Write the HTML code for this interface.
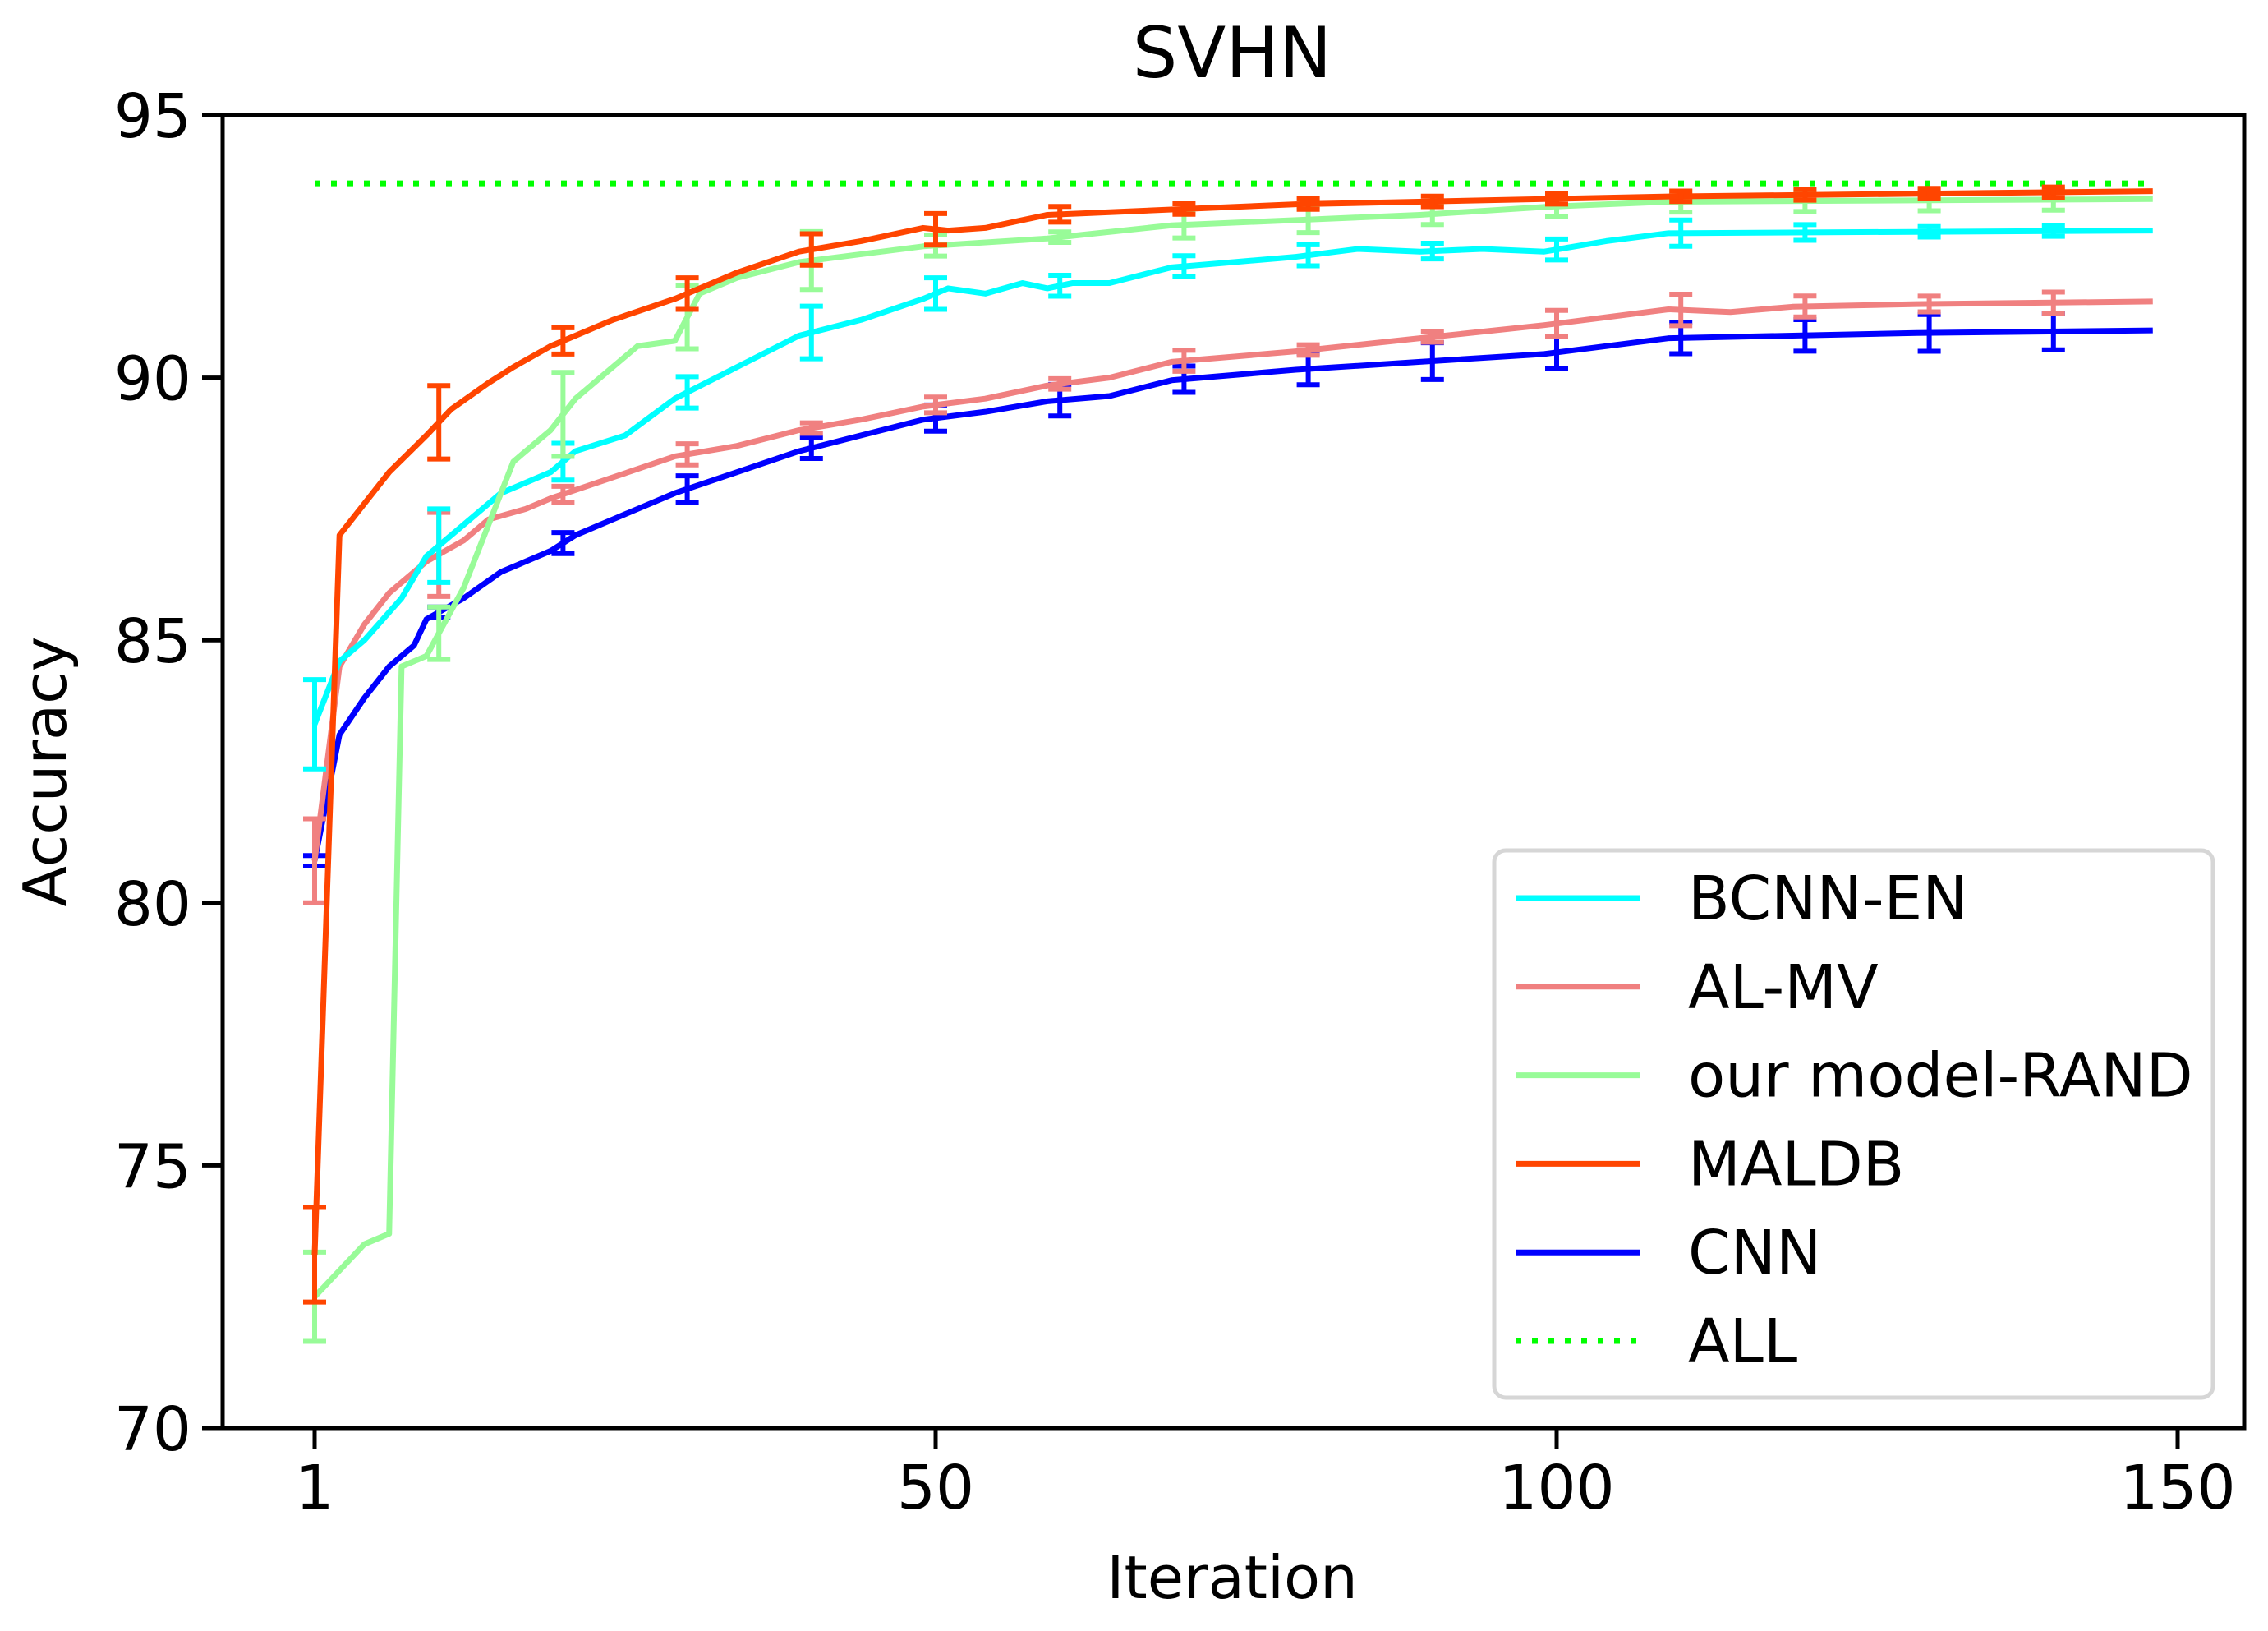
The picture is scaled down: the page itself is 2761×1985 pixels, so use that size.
<!DOCTYPE html>
<html><head><meta charset="utf-8"><style>
html,body{margin:0;padding:0;background:#fff}
svg text{font-family:"DejaVu Sans","Liberation Sans",sans-serif;fill:#000}
</style></head><body>
<svg id="chart" width="2761" height="1980" viewBox="0 0 2761 1980" xmlns="http://www.w3.org/2000/svg">
<rect width="2761" height="1980" fill="#fff"/>
<text x="1500" y="94" font-size="86" text-anchor="middle">SVHN</text>
<text x="1500" y="1945" font-size="72" text-anchor="middle">Iteration</text>
<text transform="translate(80,939) rotate(-90)" font-size="72" text-anchor="middle">Accuracy</text>
<g id="marks"></g>
<g id="axes"></g>
<g id="legend"></g>
</svg>
<script>
const xTicks=[0,50,100,150];
const xTickLabels=["1","50","100","150"];
const yTicks=[70,75,80,85,90,95];
const allValue=93.7;
const seriesNames=["BCNN-EN","AL-MV","our model-RAND","MALDB","CNN","ALL"];
const errX=[0,10,20,30,40,50,60,70,80,90,100,110,120,130,140];
const cnnX=[0,2,4,6,8,9,12,15,19,21,24,29,34,39,44,49,54,59,64,69,79,89,99,109,119,129,148];
const cnnY=[80.8,83.2,83.9,84.5,84.9,85.4,85.8,86.3,86.7,87.0,87.3,87.8,88.2,88.6,88.9,89.2,89.35,89.55,89.65,89.95,90.15,90.3,90.45,90.75,90.8,90.85,90.9];
const cnnErr=[0.1,0.1,0.2,0.25,0.2,0.25,0.3,0.25,0.3,0.35,0.3,0.3,0.3,0.35,0.35];
const almvX=[0,2,4,6,9,12,14,17,19,24,29,34,39,44,49,54,59,64,69,79,89,99,104,109,114,119,129,148];
const almvY=[80.8,84.5,85.3,85.9,86.5,86.9,87.3,87.5,87.7,88.1,88.5,88.7,89.0,89.2,89.45,89.6,89.85,90.0,90.3,90.5,90.75,91.0,91.15,91.3,91.25,91.35,91.4,91.45];
const almvErr=[0.8,0.8,0.15,0.2,0.1,0.15,0.1,0.2,0.1,0.1,0.25,0.3,0.2,0.15,0.2];
const bcnnX=[0,2,4,7,9,12,15,19,21,25,29,34,39,44,49,51,54,57,59,61,64,69,74,79,84,89,94,99,104,109,148];
const bcnnY=[83.4,84.6,85.0,85.8,86.6,87.2,87.8,88.2,88.6,88.9,89.6,90.2,90.8,91.1,91.5,91.7,91.6,91.8,91.7,91.8,91.8,92.1,92.2,92.3,92.45,92.4,92.45,92.4,92.6,92.75,92.8];
const bcnnErr=[0.85,0.7,0.35,0.3,0.5,0.3,0.2,0.2,0.2,0.15,0.2,0.25,0.15,0.1,0.1];
const randX=[0,2,4,6,7,9,12,16,19,21,23,26,29,31,34,39,49,59,69,79,89,99,109,148];
const randY=[72.5,73.0,73.5,73.7,84.5,84.7,86.0,88.4,89.0,89.6,90.0,90.6,90.7,91.6,91.9,92.2,92.5,92.65,92.9,93.0,93.1,93.25,93.35,93.4];
const randErr=[0.85,0.5,0.8,0.6,0.55,0.2,0.1,0.25,0.25,0.2,0.2,0.2,0.2,0.2,0.2];
const maldbX=[0,2,4,6,9,11,14,16,19,21,24,29,34,39,44,49,51,54,57,59,69,79,99,109,148];
const maldbY=[73.3,87.0,87.6,88.2,88.9,89.4,89.9,90.2,90.6,90.8,91.1,91.5,92.0,92.4,92.6,92.85,92.8,92.85,93.0,93.1,93.2,93.3,93.4,93.45,93.55];
const maldbErr=[0.9,0.7,0.25,0.3,0.3,0.3,0.15,0.1,0.1,0.1,0.1,0.1,0.1,0.1,0.1];

const L=271,R=2732,T=140,B=1738;
const X=v=>383+v*(2651-383)/150;
const Y=v=>B-(v-70)*(B-T)/25;
const NS="http://www.w3.org/2000/svg";
function mk(tag,attrs,parent){const e=document.createElementNS(NS,tag);for(const k in attrs)e.setAttribute(k,attrs[k]);parent.appendChild(e);return e;}
function interp(xs,ys,x){for(let i=0;i<xs.length-1;i++){if(x>=xs[i]&&x<=xs[i+1]){const t=(x-xs[i])/(xs[i+1]-xs[i]);return ys[i]+t*(ys[i+1]-ys[i]);}}return ys[ys.length-1];}
const marks=document.getElementById('marks'),axes=document.getElementById('axes'),legend=document.getElementById('legend');
const series=[
 {name:"cnn",x:cnnX,y:cnnY,e:cnnErr,c:"#0000ff"},
 {name:"al-mv",x:almvX,y:almvY,e:almvErr,c:"#f08080"},
 {name:"bcnn-en",x:bcnnX,y:bcnnY,e:bcnnErr,c:"#00ffff"},
 {name:"our-model-rand",x:randX,y:randY,e:randErr,c:"#98fb98"},
 {name:"maldb",x:maldbX,y:maldbY,e:maldbErr,c:"#ff4500"}];
const allLine=mk('line',{x1:X(0),x2:X(148),y1:Y(allValue),y2:Y(allValue),stroke:"#00ff00","stroke-width":7,"stroke-dasharray":"7,13"},marks);


series.forEach(s=>{
 const p=mk('polyline',{points:s.x.map((v,i)=>X(v)+','+Y(s.y[i])).join(' '),fill:"none",stroke:s.c,"stroke-width":7,"stroke-linejoin":"round"},marks);
 
 
 errX.forEach((ex,i)=>{
  const m=interp(s.x,s.y,ex),lo=Y(m-s.e[i]),hi=Y(m+s.e[i]),cx=X(ex);
  const g=mk('g',{stroke:s.c,"stroke-width":6},marks);
  
  
  mk('line',{x1:cx,x2:cx,y1:lo,y2:hi},g);
  mk('line',{x1:cx-14,x2:cx+14,y1:lo,y2:lo},g);
  mk('line',{x1:cx-14,x2:cx+14,y1:hi,y2:hi},g);
 });
});
const frame=mk('rect',{x:L,y:T,width:R-L,height:B-T,fill:"none",stroke:"#000","stroke-width":5},axes);


xTicks.forEach((v,i)=>{
 const t=mk('line',{x1:X(v),x2:X(v),y1:B,y2:B+25,stroke:"#000","stroke-width":5},axes);
 
 
 const tx=mk('text',{x:X(v),y:B+98,"font-size":74,"text-anchor":"middle"},axes);tx.textContent=xTickLabels[i];
 
 
});
yTicks.forEach(v=>{
 const t=mk('line',{x1:L-25,x2:L,y1:Y(v),y2:Y(v),stroke:"#000","stroke-width":5},axes);
 
 
 const tx=mk('text',{x:L-38,y:Y(v)+27,"font-size":74,"text-anchor":"end"},axes);tx.textContent=v;
 
 
});
const box=mk('rect',{x:1819,y:1035,width:875,height:666,rx:14,fill:"#fff","fill-opacity":0.8,stroke:"#d6d6d6","stroke-width":5},legend);


const legColors=["#00ffff","#f08080","#98fb98","#ff4500","#0000ff","#00ff00"];
seriesNames.forEach((n,i)=>{
 const y=1093+i*107.8;
 const ln=mk('line',{x1:1845,x2:1997,y1:y,y2:y,stroke:legColors[i],"stroke-width":7},legend);
 if(i===5)ln.setAttribute('stroke-dasharray','7,13');
 
 
 const tx=mk('text',{x:2055,y:y+26,"font-size":74},legend);tx.textContent=n;
 
 
});
</script>
</body></html>
